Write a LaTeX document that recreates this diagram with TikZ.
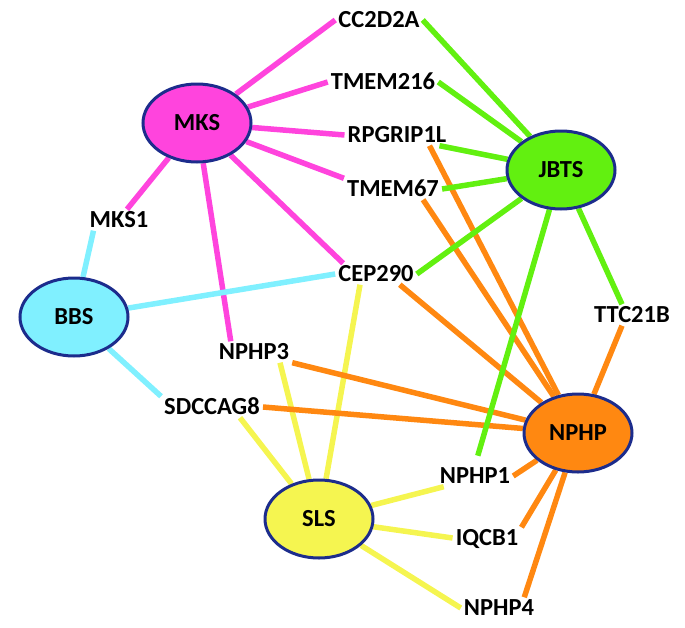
\documentclass[tikz,border=0pt]{standalone}
\usepackage{fontspec}
\setmainfont{Carlito}
\usetikzlibrary{shapes.geometric}
\pgfdeclarelayer{bg}
\pgfsetlayers{bg,main}
\definecolor{mkscol}{RGB}{255,68,221}
\definecolor{bbscol}{RGB}{128,240,255}
\definecolor{jbtscol}{RGB}{98,240,16}
\definecolor{nphpcol}{RGB}{255,136,17}
\definecolor{slscol}{RGB}{245,245,80}
\definecolor{bordercol}{RGB}{28,44,140}
\begin{document}
\begin{tikzpicture}[x=1pt,y=-1pt,
  hub/.style={ellipse, draw=bordercol, line width=3pt, minimum width=108pt, minimum height=78pt, inner sep=0pt, font=\fontsize{24.5}{27}\selectfont\bfseries},
  gene/.style={inner sep=3pt, text height=15pt, text depth=0pt, font=\fontsize{24.5}{27}\selectfont\bfseries},
  lk/.style={line width=5.5pt},
  mk/.style={lk, draw=mkscol},
  bb/.style={lk, draw=bbscol},
  jb/.style={lk, draw=jbtscol},
  np/.style={lk, draw=nphpcol},
  sl/.style={lk, draw=slscol}]
\useasboundingbox (0,0) rectangle (685,627);
% hubs
\node[hub, fill=mkscol] (mks) at (197,123) {MKS};
\node[hub, fill=jbtscol] (jbts) at (561,170) {JBTS};
\node[hub, fill=bbscol] (bbs) at (74,317) {BBS};
\node[hub, fill=nphpcol] (nphp) at (578,433) {NPHP};
\node[hub, fill=slscol] (sls) at (319,519) {SLS};
% genes
\node[gene] (cc2d2a) at (379,20) {CC2D2A};
\node[gene] (tmem216) at (383,82) {TMEM216};
\node[gene] (rpgrip1l) at (397,135) {RPGRIP1L};
\node[gene] (tmem67) at (393,189) {TMEM67};
\node[gene] (cep290) at (376,274) {CEP290};
\node[gene] (ttc21b) at (632,315) {TTC21B};
\node[gene] (mks1) at (119,220) {MKS1};
\node[gene] (nphp3) at (254,352) {NPHP3};
\node[gene] (sdccag8) at (212,407) {SDCCAG8};
\node[gene] (nphp1) at (475,476) {NPHP1};
\node[gene] (iqcb1) at (487,538) {IQCB1};
\node[gene] (nphp4) at (499,608) {NPHP4};
\begin{pgfonlayer}{bg}
% MKS
\draw[mk] (mks) -- (cc2d2a.west);
\draw[mk] (mks) -- (tmem216.west);
\draw[mk] (mks) -- (rpgrip1l.west);
\draw[mk] (mks) -- (tmem67.north west);
\draw[mk] (mks) -- ([xshift=8pt]cep290.north west);
\draw[mk] (mks) -- ([xshift=8pt]mks1.north);
\draw[mk] (mks) -- ([xshift=15pt]nphp3.north west);
% BBS
\draw[bb] (bbs) -- ([xshift=7pt]mks1.south west);
\draw[bb] (bbs) -- (cep290.west);
\draw[bb] (bbs) -- (sdccag8.north west);
% SLS
\draw[sl] (sls) -- ([xshift=-16pt]cep290.south);
\draw[sl] (sls) -- ([xshift=26pt]nphp3.south);
\draw[sl] (sls) -- ([xshift=28pt]sdccag8.south);
\draw[sl] (sls) -- ([xshift=7pt]nphp1.south west);
\draw[sl] (sls) -- (iqcb1.west);
\draw[sl] (sls) -- (nphp4.west);
% NPHP
\draw[np] (nphp) -- ([xshift=-20pt]rpgrip1l.south east);
\draw[np] (nphp) -- ([xshift=-19pt]tmem67.south east);
\draw[np] (nphp) -- ([xshift=-17pt]cep290.south east);
\draw[np] (nphp) -- ([xshift=-10pt]ttc21b.south);
\draw[np] (nphp) -- (nphp3.south east);
\draw[np] (nphp) -- (sdccag8.east);
\draw[np] (nphp) -- (nphp1.east);
\draw[np] (nphp) -- (iqcb1.north east);
\draw[np] (nphp) -- ([xshift=-13pt]nphp4.north east);
% JBTS
\draw[jb] (jbts) -- (cc2d2a.east);
\draw[jb] (jbts) -- (tmem216.east);
\draw[jb] (jbts) -- ([xshift=-10pt]rpgrip1l.south east);
\draw[jb] (jbts) -- (tmem67.east);
\draw[jb] (jbts) -- (cep290.east);
\draw[jb] (jbts) -- ([xshift=-10pt]ttc21b.north);
\draw[jb, shorten >=10pt] (jbts) -- (nphp1.north);
\end{pgfonlayer}
\end{tikzpicture}
\end{document}
